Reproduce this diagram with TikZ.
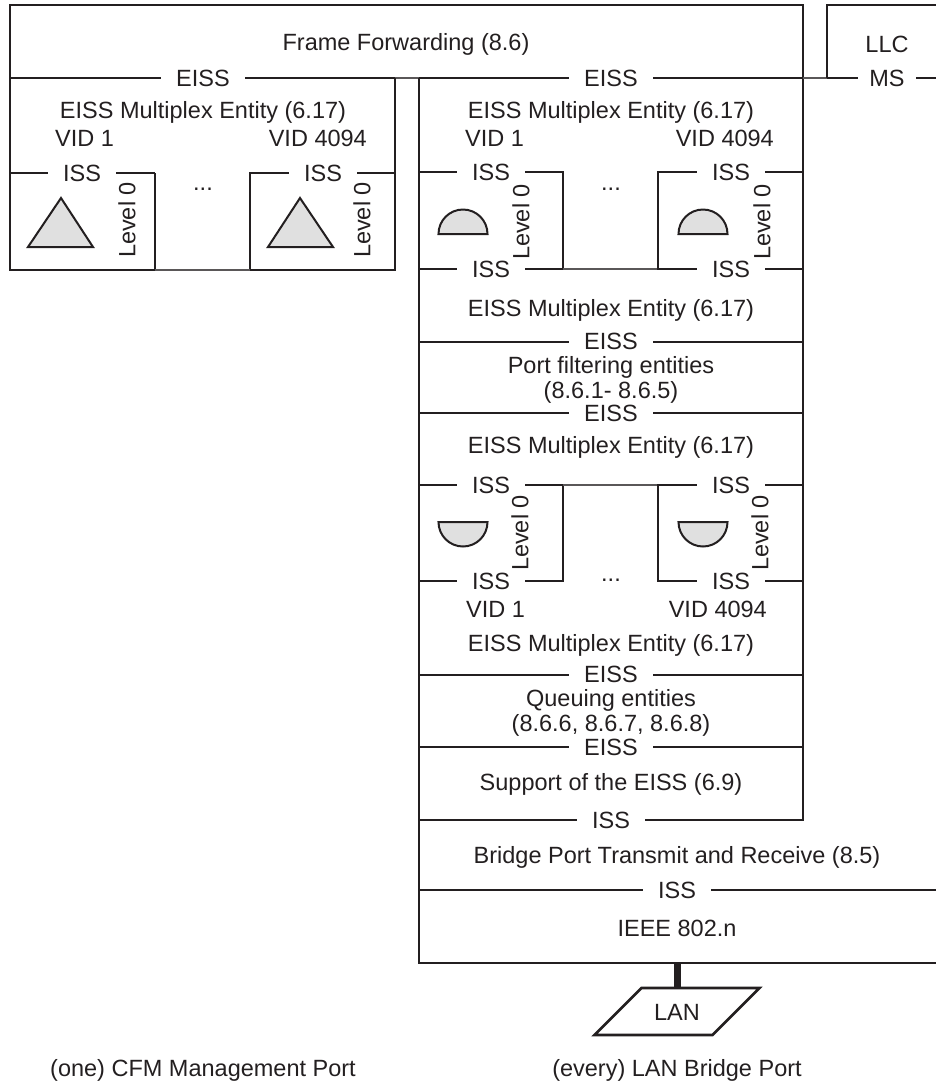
\documentclass[tikz,border=0pt]{standalone}
\usepackage{fontspec}
\setmainfont{Liberation Sans}
\definecolor{ink}{HTML}{231F20}
\definecolor{shade}{HTML}{E0E0E0}
\begin{document}
\begin{tikzpicture}[x=1pt,y=-1pt,
  thk/.style={draw=ink,line width=2.6pt},
  thn/.style={draw=ink!75,line width=1.4pt},
  txt/.style={font=\fontsize{23.5}{28}\selectfont, text=ink, inner sep=0pt, text height=16.8pt, text depth=0pt},
  gap/.style={txt, fill=white, inner xsep=15pt, inner ysep=0pt},
  vtxt/.style={txt, rotate=90},
  shp/.style={draw=ink, line width=2pt, fill=shade, line join=miter}]
\useasboundingbox (0,0) rectangle (936,1088);
% ---- outer frame and left column
\draw[thk] (155,173) -- (155,270) -- (10,270) -- (10,5) -- (803,5) -- (803,820) -- (419,820);
\draw[thk] (10,173) -- (155,173);
\draw[thk] (10,78) -- (395,78);
\draw[thn] (395,78) -- (419,78);
\draw[thk] (419,78) -- (803,78);
\draw[thn] (803,78) -- (827,78);
\draw[thk] (827,78) -- (936,78);
\draw[thk] (936,5) -- (827,5) -- (827,78);
\draw[thk] (395,78) -- (395,270) -- (250,270) -- (250,173) -- (395,173);
\draw[thn] (250,270) -- (155,270);
% ---- right column
\draw[thk] (419,78) -- (419,963) -- (936,963);
\draw[thk] (419,172) -- (563,172) -- (563,269) -- (419,269);
\draw[thn] (563,269) -- (658,269);
\draw[thk] (803,172) -- (658,172) -- (658,269) -- (803,269);
\draw[thk] (419,342) -- (803,342);
\draw[thk] (419,413) -- (803,413);
\draw[thk] (419,485) -- (563,485) -- (563,581) -- (419,581);
\draw[thn] (563,485) -- (658,485);
\draw[thk] (803,485) -- (658,485) -- (658,581) -- (803,581);
\draw[thk] (419,675) -- (803,675);
\draw[thk] (419,747) -- (803,747);
\draw[thk] (419,890) -- (936,890);
% ---- shapes
\draw[shp] (61,198) -- (93,247) -- (28,247) -- cycle;
\draw[shp] (300,198) -- (333,247) -- (268,247) -- cycle;
\draw[shp] (438.5,234) arc[start angle=180,end angle=0,radius=24.5pt] -- cycle;
\draw[shp] (678.5,234) arc[start angle=180,end angle=0,radius=24.5pt] -- cycle;
\draw[shp] (438.5,522) arc[start angle=180,end angle=360,radius=24.5pt] -- cycle;
\draw[shp] (678.5,522) arc[start angle=180,end angle=360,radius=24.5pt] -- cycle;
% ---- LAN
\coordinate (ieeeBot) at (677,963);
\coordinate (lanTop) at (677,988);
\draw[ink, line width=7pt] (ieeeBot) -- (lanTop);
\draw[draw=ink, line width=2.6pt, fill=white] (641.5,988) -- (759.5,988) -- (712.5,1035) -- (594.5,1035) -- cycle;
\node[txt] (lan) at (677,1012) {LAN};
% ---- gap labels
\node[gap] (e1) at (203,78) {EISS};
\node[gap] (e2) at (611,78) {EISS};
\node[gap, inner xsep=11pt] (ms) at (887,78) {MS};
\node[gap] (i1) at (82,173) {ISS};
\node[gap] (i2) at (323,173) {ISS};
\node[gap] (i3) at (491,172) {ISS};
\node[gap] (i4) at (731,172) {ISS};
\node[gap] (i5) at (491,269) {ISS};
\node[gap] (i6) at (731,269) {ISS};
\node[gap] (e3) at (611,341) {EISS};
\node[gap] (e4) at (611,413) {EISS};
\node[gap] (i7) at (491,485) {ISS};
\node[gap] (i8) at (731,485) {ISS};
\node[gap] (i9) at (491,581) {ISS};
\node[gap] (i10) at (731,581) {ISS};
\node[gap] (e5) at (611,674) {EISS};
\node[gap] (e6) at (611,747) {EISS};
\node[gap] (i11) at (611,820) {ISS};
\node[gap] (i12) at (677,890) {ISS};
% ---- texts
\node[txt] (ff) at (406,42) {Frame Forwarding (8.6)};
\node[txt] (llc) at (887,44) {LLC};
\node[txt] (m1) at (203,110) {EISS Multiplex Entity (6.17)};
\node[txt, anchor=west] (v1) at (55,138) {VID 1};
\node[txt, anchor=east] (v2) at (367,138) {VID 4094};
\node[txt] (d1) at (203,182) {...};
\node[vtxt] (l1) at (127,220) {Level 0};
\node[vtxt] (l2) at (362,220) {Level 0};
\node[txt] (m2) at (611,110) {EISS Multiplex Entity (6.17)};
\node[txt, anchor=west] (v3) at (465,138) {VID 1};
\node[txt, anchor=east] (v4) at (774,138) {VID 4094};
\node[txt] (d2) at (611,182) {...};
\node[vtxt] (l3) at (521,222) {Level 0};
\node[vtxt] (l4) at (762,222) {Level 0};
\node[txt] (m3) at (611,308) {EISS Multiplex Entity (6.17)};
\node[txt] (pf1) at (611,365) {Port filtering entities};
\node[txt] (pf2) at (611,390) {(8.6.1- 8.6.5)};
\node[txt] (m4) at (611,445) {EISS Multiplex Entity (6.17)};
\node[vtxt] (l5) at (520,533) {Level 0};
\node[vtxt] (l6) at (760,533) {Level 0};
\node[txt] (d3) at (611,573) {...};
\node[txt, anchor=west] (v5) at (466,609) {VID 1};
\node[txt, anchor=east] (v6) at (767,609) {VID 4094};
\node[txt] (m5) at (611,643) {EISS Multiplex Entity (6.17)};
\node[txt] (q1) at (611,698) {Queuing entities};
\node[txt] (q2) at (611,723) {(8.6.6, 8.6.7, 8.6.8)};
\node[txt] (sup) at (611,782) {Support of the EISS (6.9)};
\node[txt] (bp) at (677,855) {Bridge Port Transmit and Receive (8.5)};
\node[txt] (ieee) at (677,928) {IEEE 802.n};
\node[txt] (cfm) at (203,1068) {(one) CFM Management Port};
\node[txt] (every) at (677,1068) {(every) LAN Bridge Port};
\end{tikzpicture}
\end{document}
